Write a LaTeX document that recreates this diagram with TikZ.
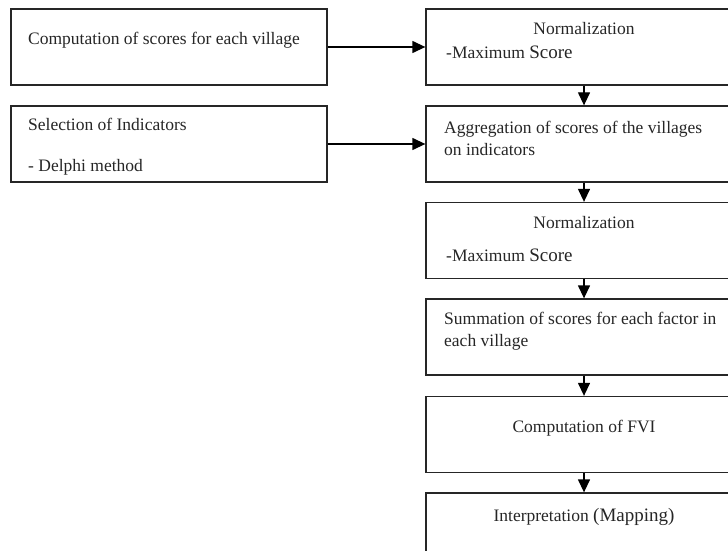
\documentclass[tikz,border=0pt]{standalone}
\usepackage{fontspec}
\setmainfont{Liberation Serif}
\usetikzlibrary{arrows.meta}
\tikzset{
  box/.style={draw=black!85, line width=1.3pt, minimum width=316pt, minimum height=76pt, inner sep=0pt},
  txt/.style={inner sep=0pt, font=\fontsize{17.5}{21}\selectfont, text=black!85},
  arr/.style={draw=black, line width=1.3pt, -{Triangle[length=13pt,width=12pt]}}
}
\begin{document}
\begin{tikzpicture}[x=1pt,y=1pt]
\useasboundingbox (0,0) rectangle (728,550);
\clip (0,0) rectangle (728,550);
% boxes
\node[box] (L1) at (169,503) {};
\node[box] (L2) at (169,406) {};
\node[box] (R1) at (584,503) {};
\node[box] (R2) at (584,406) {};
\node[box] (R3) at (584,309.5) {};
\node[box] (R4) at (584,213) {};
\node[box] (R5) at (584,115.5) {};
\node[box] (R6) at (584,19) {};
% texts
\node[txt, anchor=base west] (t1) at (28,505) {Computation of scores for each village};
\node[txt, anchor=base west] (t2) at (28,419) {Selection of Indicators};
\node[txt, anchor=base west] (t3) at (28,378) {- Delphi method};
\node[txt, anchor=base] (t4) at (584,515) {Normalization};
\node[txt, anchor=base west] (t5) at (446,491) {-Maximum {\fontsize{19}{22}\selectfont Score}};
\node[txt, anchor=base west] (t6) at (444,416) {Aggregation of scores of the villages};
\node[txt, anchor=base west] (t7) at (444,395) {on indicators};
\node[txt, anchor=base] (t8) at (584,322) {Normalization};
\node[txt, anchor=base west] (t9) at (446,289) {-Maximum {\fontsize{19}{22}\selectfont Score}};
\node[txt, anchor=base west] (t10) at (444,226) {Summation of scores for each factor in};
\node[txt, anchor=base west] (t11) at (444,204) {each village};
\node[txt, anchor=base] (t12) at (584,118) {Computation of FVI};
\node[txt, anchor=base] (t13) at (584,29) {Interpretation {\fontsize{19}{22}\selectfont (Mapping)}};
% connectors
\draw[arr] (L1.east) -- (R1.west);
\draw[arr] (L2.east) -- (R2.west);
\draw[arr] (R1.south) -- (R2.north);
\draw[arr] (R2.south) -- (R3.north);
\draw[arr] (R3.south) -- (R4.north);
\draw[arr] (R4.south) -- (R5.north);
\draw[arr] (R5.south) -- (R6.north);
\end{tikzpicture}
\end{document}
